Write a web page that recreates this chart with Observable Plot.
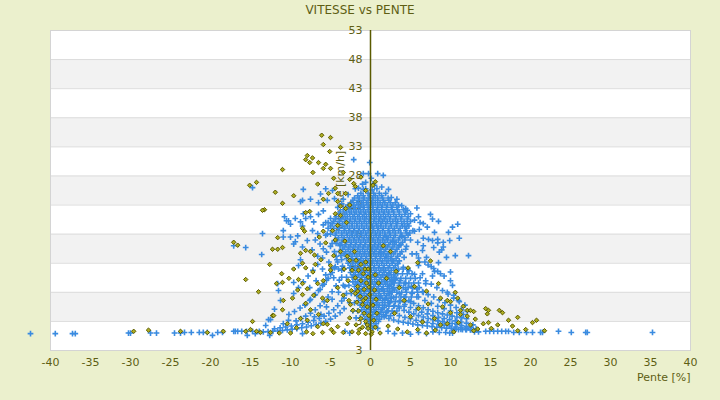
<!DOCTYPE html>
<html><head><meta charset="utf-8">
<script src="https://cdn.jsdelivr.net/npm/d3@7"></script>
<script src="https://cdn.jsdelivr.net/npm/@observablehq/plot@0.6"></script>
<style>
body{margin:0;background:#ebf0cd;font-family:"DejaVu Sans",sans-serif;}
#title{height:20px;line-height:20px;text-align:center;font-size:12px;color:#5e5e14;width:720px;}
</style></head><body>
<div id="title">VITESSE vs PENTE</div>
<div id="chart"></div>
<script>
const xTicks = [-40,-35,-30,-25,-20,-15,-10,-5,0,5,10,15,20,25,30,35,40];
const yTicks = [53,48,43,38,33,28,23,18,13,8,3,-2];
const yTickLabels = ["53","48","43","38","33","28","23","18","13","8","3","3"];

// dense core of the blue series: [speed, [slopes...]]
const blueCore = [
 [25.0,[-1.2,-0.3,0.4,1.1,1.9]],
 [24.2,[-2.0,-1.4,-0.8,-0.2,0.3,0.9,1.5,2.2]],
 [23.4,[-2.4,-1.7,-1.1,-0.5,0.1,0.6,1.2,1.8,2.5,3.1]],
 [22.6,[-3.1,-2.5,-1.9,-1.3,-0.8,-0.2,0.3,0.9,1.4,2.0,2.6,3.3]],
 [21.8,[-3.8,-3.0,-2.4,-1.8,-1.2,-0.6,0,0.5,1.1,1.7,2.3,2.9,3.6,4.4]],
 [21.0,[-4.3,-3.5,-2.9,-2.2,-1.6,-1.0,-0.5,0.1,0.7,1.3,1.9,2.5,3.2,3.9,4.7]],
 [20.2,[-4.6,-3.9,-3.2,-2.6,-2.0,-1.4,-0.8,-0.2,0.4,1.0,1.5,2.1,2.8,3.4,4.2,5.0]],
 [19.4,[-5.0,-4.2,-3.5,-2.9,-2.3,-1.7,-1.1,-0.5,0.2,0.8,1.3,1.9,2.6,3.3,4.0,4.8]],
 [18.6,[-4.8,-4.0,-3.3,-2.7,-2.1,-1.5,-0.9,-0.3,0.3,0.9,1.5,2.2,2.8,3.5,4.4,5.3]],
 [17.8,[-4.4,-3.6,-2.9,-2.3,-1.7,-1.1,-0.5,0.1,0.7,1.2,1.8,2.5,3.1,3.9,4.7]],
 [17.0,[-4.1,-3.4,-2.7,-2.1,-1.5,-0.9,-0.3,0.3,0.9,1.5,2.1,2.8,3.5,4.3]],
 [16.2,[-3.8,-3.1,-2.5,-1.9,-1.3,-0.7,-0.1,0.5,1.0,1.6,2.3,3.0,3.8]],
 [15.4,[-3.5,-2.8,-2.2,-1.6,-1.0,-0.4,0.2,0.7,1.3,1.9,2.6,3.3]],
 [14.6,[-3.3,-2.6,-2.0,-1.4,-0.8,-0.2,0.4,1.0,1.6,2.2,2.9,3.7]],
 [13.8,[-3.0,-2.4,-1.8,-1.2,-0.6,0,0.6,1.2,1.8,2.5,3.2]],
 [13.0,[-2.8,-2.2,-1.6,-1.0,-0.4,0.2,0.8,1.4,2.0,2.7,3.4]],
 [12.2,[-2.6,-2.0,-1.4,-0.8,-0.2,0.4,1.0,1.6,2.2,2.9]],
 [11.4,[-2.5,-1.9,-1.3,-0.7,-0.1,0.5,1.1,1.7,2.4,3.1]],
 [10.6,[-2.3,-1.7,-1.1,-0.5,0.1,0.7,1.3,1.9,2.6]],
 [9.8,[-2.2,-1.6,-1.0,-0.4,0.2,0.8,1.4,2.1,2.8]],
 [9.0,[-2.0,-1.4,-0.8,-0.2,0.4,1.0,1.6,2.3]],
 [8.2,[-1.9,-1.3,-0.7,-0.1,0.5,1.1,1.7,2.4]],
 [7.4,[-1.7,-1.1,-0.5,0.1,0.7,1.3,2.0]],
 [6.6,[-1.5,-0.9,-0.3,0.3,0.9,1.5,2.2]],
 [5.8,[-1.3,-0.7,-0.1,0.5,1.1,1.8]],
 [5.0,[-1.1,-0.5,0.1,0.7,1.4]],
 [4.2,[-0.9,-0.3,0.3,0.9,1.6]],
 [3.4,[-0.7,-0.1,0.5,1.1]],
 [2.6,[-0.5,0.1,0.7]],
 [1.8,[-0.3,0.3,0.9]]
];
const blueCore2 = [
 [26.6,[-1.0,0.3]],
 [25.8,[-1.9,-0.6,0.8]],
 [24.6,[-1.6,-0.9,-0.1,0.6,1.4]],
 [23.8,[-2.2,-1.5,-0.9,-0.3,0.3,0.9,1.6,2.3]],
 [23.0,[-2.8,-2.1,-1.5,-0.9,-0.3,0.3,0.9,1.5,2.1,2.8,3.5]],
 [22.2,[-3.4,-2.7,-2.1,-1.5,-0.9,-0.3,0.3,0.8,1.4,2.0,2.7,3.4,4.1]],
 [21.4,[-3.9,-3.2,-2.6,-2.0,-1.4,-0.8,-0.2,0.4,1.0,1.6,2.2,2.9,3.6,4.3]],
 [20.6,[-4.4,-3.7,-3.1,-2.5,-1.9,-1.3,-0.7,-0.1,0.5,1.1,1.7,2.4,3.1,3.8,4.6]],
 [19.8,[-4.8,-4.1,-3.5,-2.9,-2.3,-1.7,-1.1,-0.5,0.1,0.7,1.3,1.9,2.5,3.2,3.9,4.6]],
 [19.0,[-4.6,-3.9,-3.2,-2.6,-2.0,-1.4,-0.8,-0.2,0.4,1.0,1.6,2.3,3.0,3.7,4.5]],
 [18.2,[-4.3,-3.6,-3.0,-2.4,-1.8,-1.2,-0.6,0,0.6,1.2,1.8,2.4,3.1,3.8,4.5]],
 [17.4,[-4.0,-3.3,-2.6,-2.0,-1.4,-0.8,-0.2,0.4,1.0,1.6,2.2,2.9,3.6,4.3]],
 [16.6,[-3.6,-3.0,-2.4,-1.8,-1.2,-0.6,0,0.6,1.2,1.8,2.5,3.2,4.0]],
 [15.8,[-3.3,-2.7,-2.1,-1.5,-0.9,-0.3,0.3,0.9,1.5,2.1,2.8,3.5]],
 [15.0,[-3.1,-2.5,-1.9,-1.3,-0.7,-0.1,0.5,1.1,1.7,2.4,3.1,3.9]],
 [14.2,[-2.9,-2.3,-1.7,-1.1,-0.5,0.1,0.7,1.3,1.9,2.6,3.4]],
 [13.4,[-2.7,-2.1,-1.5,-0.9,-0.3,0.3,0.9,1.5,2.2,2.9,3.6]],
 [12.6,[-2.5,-1.9,-1.3,-0.7,-0.1,0.5,1.1,1.7,2.4,3.1]],
 [11.8,[-2.3,-1.7,-1.1,-0.5,0.1,0.7,1.3,1.9,2.6,3.3]],
 [11.0,[-2.1,-1.5,-0.9,-0.3,0.3,0.9,1.5,2.2,2.9]],
 [10.2,[-1.9,-1.3,-0.7,-0.1,0.5,1.1,1.7,2.4,3.1]],
 [9.4,[-1.8,-1.2,-0.6,0,0.6,1.2,1.9,2.6]],
 [8.6,[-1.6,-1.0,-0.4,0.2,0.8,1.4,2.1,2.8]],
 [7.8,[-1.4,-0.8,-0.2,0.4,1.0,1.7,2.4]],
 [7.0,[-1.2,-0.6,0,0.6,1.2,1.9,2.6]],
 [6.2,[-1.0,-0.4,0.2,0.8,1.5,2.2]],
 [5.4,[-0.8,-0.2,0.4,1.0,1.7]],
 [4.6,[-0.6,0,0.6,1.3,2.0]],
 [3.8,[-0.4,0.2,0.8,1.4]],
 [3.0,[-0.2,0.4,1.0]],
 [2.2,[0,0.6]]
];
// lower right and left flank of the blue core
const blueFlank = [
 [20.0,[-5.6,-5.3]],[18.0,[-5.4,-5.0]],[16.4,[-4.8,-4.3]],[15.0,[-4.5,-3.9]],[13.6,[-4.2,-3.6]],[12.0,[-4.0,-3.3]],
 [10.6,[-3.6,-3.0]],[9.2,[-3.4,-2.7]],[7.8,[-3.0,-2.4]],[6.2,[-2.6,-2.0]],[4.8,[-2.2,-1.6]],[3.6,[-1.8,-1.3]],
 [12.0,[3.5,4.1,4.7]],[11.2,[3.4,4.0,4.6,5.2]],[10.4,[3.2,3.8,4.4,5.0,5.6]],[9.6,[3.0,3.6,4.2,4.8,5.4,6.0]],
 [8.8,[2.9,3.5,4.1,4.7,5.3,6.1]],[8.0,[2.7,3.3,3.9,4.5,5.2,5.9,6.6]],[7.2,[2.6,3.2,3.8,4.4,5.1,5.8]],
 [6.4,[2.5,3.1,3.7,4.3,5.0]],[5.6,[2.3,2.9,3.5,4.2]],[4.8,[2.1,2.7,3.3]],[4.0,[1.9,2.5]]
];

// blue series outside the core: [slope, speed]
const blueScatter = [
 // bottom line
 [-42.5,0.9],[-39.4,0.9],[-37.25,0.9],[-36.9,0.9],[-30.25,1.0],[-30.0,1.0],[-27.5,1.0],[-26.75,1.0],[-24.5,1.0],[-23.75,1.0],
 [-23.25,1.1],[-22.4,1.1],[-21.4,1.1],[-20.9,1.1],[-20.4,1.1],[-19.75,0.6],[-19.1,1.1],[-18.5,1.1],[-17.1,1.3],[-16.9,1.3],
 [-16.6,1.3],[-16.1,1.3],[-15.5,1.3],[-15.4,0.6],[-14.75,1.3],[-14.4,0.9],[-13.9,1.3],[-13.1,2.3],[-12.75,3.3],[-12.6,0.6],
 [8.6,1.1],[9.4,1.1],[9.9,1.0],[10.25,1.0],[10.5,1.6],[11.0,1.6],[11.5,1.6],[12.0,1.6],[12.5,1.6],[13.0,1.2],[13.5,1.2],
 [14.4,1.3],[14.9,1.3],[15.4,1.3],[15.9,1.3],[16.4,1.3],[16.9,1.3],[17.25,1.3],[17.9,1.1],[18.6,1.1],[19.5,1.1],[20.25,1.1],
 [21.25,1.1],[21.5,1.1],[23.5,1.3],[25.1,1.1],[26.9,1.1],[27.1,1.1],[35.25,1.1],
 [3.0,0.9],[4.0,1.0],[5.0,0.8],[6.0,1.1],[7.0,0.9],[7.8,1.2],[2.2,1.3],[-2.6,1.0],[-3.2,1.3],
 // left rising arcs
 [-13.4,1.2],[-12.8,1.25],[-12.2,1.3],[-11.6,1.35],[-11.0,1.45],[-10.4,1.55],[-9.8,1.65],[-9.2,1.75],[-8.6,1.9],[-8.0,2.05],
 [-7.4,2.25],[-6.8,2.45],[-6.2,2.7],[-5.6,3.0],[-5.0,3.4],[-4.4,3.9],[-3.8,4.5],[-3.3,5.2],
 [-12.0,1.75],[-11.3,1.9],[-10.6,2.05],[-9.9,2.2],[-9.2,2.4],[-8.5,2.6],[-7.8,2.85],[-7.1,3.15],[-6.4,3.5],[-5.8,3.9],
 [-5.2,4.4],[-4.6,5.0],[-4.1,5.7],[-3.6,6.5],
 [-9.3,3.1],[-8.7,3.5],[-8.1,3.9],[-7.5,4.4],[-6.9,5.0],[-6.3,5.7],[-5.8,6.4],[-5.3,7.2],[-4.8,8.1],[-4.3,9.1],[-3.9,10.1],
 [-10.2,4.2],[-9.5,4.7],[-8.8,5.3],[-8.1,6.0],[-7.5,6.8],[-6.9,7.6],[-6.3,8.5],[-5.8,9.4],[-5.3,10.4],[-4.8,11.4],[-4.4,12.4],
 [-8.2,5.8],[-7.6,6.6],[-7.0,7.5],[-6.5,8.3],[-6.0,9.2],[-5.5,10.1],[-5.0,11.1],[-4.5,12.2],[-4.1,13.2],[-3.7,14.3],
 [-9.6,7.8],[-9.0,8.8],[-8.4,9.8],[-7.8,10.8],[-7.2,11.8],[-6.6,12.8],[-6.0,13.9],[-5.5,14.9],[-5.0,15.9],[-4.5,16.9],
 // left scatter
 [-17.1,16.0],[-15.6,15.7],[-13.6,14.5],[-9.6,16.3],[-9.4,16.7],[-8.5,15.8],[-9.0,12.6],[-8.75,13.6],[-9.6,9.7],[-11.5,8.3],
 [-11.6,9.5],[-12.5,3.3],[-10.25,3.2],[-10.9,2.6],[-8.5,0.9],[-11.25,6.6],[-12.0,5.1],
 [-6.0,12.0],[-5.2,13.2],[-4.6,10.5],[-4.0,8.0],[-3.6,11.8],[-3.2,9.0],[-5.6,11.0],[-6.8,10.0],[-7.6,8.8],[-4.3,14.2],
 [-3.8,16.0],[-5.9,15.5],[-4.9,12.0],[-3.5,12.5],[-3.3,7.0],[-4.8,6.8],[-5.5,5.5],[-6.2,4.2],[-7.0,3.8],
 // upper left halo
 [-14.75,26.0],[-8.4,25.7],[-7.5,24.0],[-8.5,23.8],[-8.75,23.6],[-6.25,24.9],[-5.6,25.8],[-6.5,23.4],[-4.75,25.5],[-4.5,24.1],
 [-5.4,23.8],[-10.75,21.0],[-10.5,20.3],[-10.25,20.3],[-10.0,19.7],[-9.4,20.7],[-8.75,20.1],[-10.9,18.6],[-13.5,18.1],[-8.4,21.5],
 [-8.1,20.7],[-7.5,21.0],[-7.1,20.1],[-6.5,21.4],[-5.9,22.0],[-5.9,19.6],[-5.0,20.7],[-7.25,18.6],[-6.6,18.1],[-9.1,17.7],
 [-10.0,17.5],[-10.9,17.5],[-8.5,19.4],[-7.9,16.9],[-6.9,17.0],[-6.3,16.3],[-5.6,17.8],[-5.3,19.0],[-7.3,15.3],[-6.6,14.2],
 [-4.1,22.6],[-3.4,24.0],[-2.8,24.8],[-3.6,23.2],
 // top
 [-2.1,30.8],[-0.9,28.4],[-0.25,28.4],[0.9,28.4],[1.6,28.1],[2.25,25.7],[-0.1,30.3],[0.1,27.6],[-0.6,26.9],[0.5,26.4],
 [-1.5,25.9],[1.4,26.1],[-0.9,25.7],[0.2,25.6],[2.6,24.3],[3.3,24.0],
 // right halo
 [3.9,22.9],[4.4,22.4],[4.6,22.1],[6.0,21.0],[7.5,21.4],[7.75,20.6],[8.5,20.2],[6.6,19.8],[7.1,19.2],[10.9,19.7],
 [10.25,19.2],[9.75,18.3],[8.0,18.3],[11.1,17.3],[9.1,16.6],[9.9,16.9],[8.4,17.1],[7.75,16.9],[7.25,17.1],[6.6,17.3],
 [5.9,16.6],[7.9,15.7],[5.5,18.5],[6.2,20.0],[5.0,21.5],[5.5,20.4],[6.5,15.2],[5.75,14.6],[7.0,14.0],[8.6,14.9],
 [9.5,14.0],[6.1,13.2],[7.2,12.7],[8.0,11.6],[4.5,15.9],[5.0,17.0],[4.3,19.3],[5.8,22.5],[4.9,18.2],[6.1,18.8],
 [6.6,16.0],[8.4,16.5],[9.1,15.8],[8.9,15.3],[10.6,14.3],[12.25,14.3],[6.0,12.6],[8.5,13.1],[7.9,12.1],[6.5,11.2],
 [7.75,10.8],[10.0,11.5],[8.75,11.2],[6.9,9.5],[9.6,8.0],[10.25,9.2],[10.4,7.5],[11.0,6.6],[4.2,14.0],[3.9,17.6],
 // right descending arcs
 [0.5,4.6],[1.1,4.2],[1.7,3.8],[2.3,3.5],[2.9,3.25],[3.5,3.0],[4.1,2.85],[4.7,2.7],[5.3,2.55],[5.9,2.4],[6.5,2.3],
 [7.1,2.2],[7.7,2.1],[8.3,2.0],[8.9,1.9],[9.5,1.85],[10.1,1.8],[10.7,1.7],[11.3,1.65],[11.9,1.6],[12.5,1.55],
 [0.8,5.9],[1.5,5.3],[2.2,4.8],[2.9,4.4],[3.6,4.0],[4.3,3.7],[5.0,3.45],[5.7,3.2],[6.4,3.0],[7.1,2.8],[7.8,2.65],
 [8.5,2.5],[9.2,2.35],[9.9,2.2],[10.6,2.05],[11.3,1.95],[12.0,1.85],
 [1.2,7.2],[1.8,6.7],[2.4,6.2],[3.0,5.7],[3.6,5.3],[4.2,4.9],[4.8,4.6],[5.4,4.3],[6.0,4.0],[6.6,3.75],[7.2,3.5],
 [7.8,3.3],[8.4,3.1],[9.0,2.95],[9.6,2.8],[10.2,2.65],[10.8,2.5],[11.4,2.3],[12.0,2.1],[12.6,1.9],[13.2,1.75],
 [1.5,8.5],[2.2,7.8],[2.9,7.1],[3.6,6.5],[4.3,5.9],[5.0,5.4],[5.7,5.0],[6.4,4.6],[7.1,4.3],[7.8,4.0],[8.5,3.7],
 [9.2,3.5],[9.9,3.3],[10.6,3.1],[11.3,2.9],[12.0,2.7],[12.8,2.4],
 [1.8,9.9],[2.4,9.1],[3.0,8.4],[3.6,7.8],[4.2,7.2],[4.8,6.6],[5.4,6.1],[6.0,5.7],[6.6,5.35],[7.2,5.0],[7.8,4.75],
 [8.4,4.5],[9.0,4.3],[9.6,4.1],[10.2,3.9],[10.8,3.75],[11.4,3.6],[12.0,3.45],
 [2.0,10.9],[2.8,10.0],[3.6,9.2],[4.4,8.5],[5.2,7.8],[6.0,7.2],[6.8,6.6],[7.6,6.1],[8.4,5.6],[9.2,5.2],[10.0,4.8],
 [10.8,4.5],[11.6,4.2],
 [1.6,11.8],[2.3,11.2],[3.0,10.6],[3.7,10.0],[4.4,9.5],[5.1,9.0],[5.8,8.6],[6.5,8.1],[7.2,7.6],[7.9,7.2],[8.6,6.7],
 [9.3,6.2],[10.0,5.8],[10.7,5.4],[11.4,5.0],[12.1,4.7],
 [1.3,14.7],[2.0,14.1],[2.7,13.5],[3.4,12.9],[4.1,12.3],[4.8,11.7],[5.5,11.1],[6.2,10.5],[6.9,10.0],[7.6,9.4],[8.3,8.8],
 [9.0,8.3],[9.7,7.7],[10.4,7.0],[11.1,6.4],[11.8,5.8],
 [2.0,17.5],[2.8,16.8],[3.6,16.1],[4.4,15.4],[5.2,14.6],[6.0,13.9],[6.8,13.2],[7.6,12.4],[8.4,11.6],[9.2,10.8],[10.0,10.0]
];

// olive series: [slope, speed]
const olivePts = [
 // upper left
 [-6.1,35.0],[-5.0,34.6],[-5.9,33.4],[-5.1,32.2],[-3.75,32.9],[-7.9,31.5],[-7.25,31.1],[-8.1,30.8],[-7.6,30.3],[-6.5,30.3],
 [-5.6,30.0],[-5.9,29.3],[-5.0,29.3],[-11.0,29.1],[-14.25,26.9],[-11.9,25.2],[-9.6,24.6],[-11.0,23.3],[-13.25,22.2],[-8.1,21.7],
 [-7.6,21.9],[-8.5,19.0],[-8.25,18.5],[-11.6,17.4],[-3.4,28.6],[-3.1,25.0],[-1.9,26.2],[-4.4,25.9],[-4.1,25.0],[-5.9,24.0],
 [-5.25,25.0],[-4.1,23.6],[-3.75,22.8],[-3.1,22.4],[-2.1,26.7],[-0.6,25.5],[-3.75,21.2],[-4.1,19.5],[-4.75,18.6],[-5.9,18.5],
 [-15.1,26.4],[-17.1,16.6],[-16.6,16.1],[-13.5,22.1],[-4.6,27.6],[-2.6,27.4],[-6.6,26.6],[-7.2,28.6],
 // left middle
 [-12.25,15.4],[-11.6,15.4],[-11.0,15.7],[-12.6,12.8],[-11.1,11.2],[-15.6,10.2],[-11.75,9.5],[-11.0,9.7],[-14.0,8.1],[-10.9,6.6],
 [-11.0,5.0],[-12.25,4.0],[-14.75,3.0],[-15.6,1.3],[-15.0,1.6],[-13.75,1.1],
 [-8.75,14.7],[-8.1,15.2],[-7.5,15.0],[-8.5,13.0],[-8.1,12.2],[-9.0,10.2],[-8.5,9.5],[-7.9,8.6],[-9.1,8.4],[-8.5,7.6],
 [-9.75,7.0],[-8.1,6.1],[-7.5,5.0],[-6.5,4.2],[-7.9,3.2],[-6.6,2.1],[-5.4,2.5],[-4.1,2.1],[-2.9,2.6],[-6.6,9.5],
 [-5.9,10.0],[-5.0,12.6],[-4.6,14.3],[-3.75,15.0],[-5.0,11.8],[-4.1,8.8],[-3.4,7.5],[-2.5,5.9],[-5.4,6.6],[-7.1,7.5],
 [-6.9,12.8],[-7.2,11.5],[-6.2,13.6],[-5.6,16.5],[-6.4,17.5],[-4.4,17.0],[-7.0,14.4],[-9.6,12.0],[-10.2,10.4],[-6.0,7.0],
 // column around zero
 [-1.8,13.5],[-1.2,12.8],[-0.6,13.2],[-1.5,11.8],[-0.9,11.2],[-0.3,12.0],[-1.9,10.5],[-1.2,10.0],[-0.5,9.6],[-1.6,9.0],
 [-0.8,8.5],[-0.2,8.9],[-1.9,7.8],[-1.3,7.3],[-0.6,7.0],[-0.1,7.6],[-1.7,6.3],[-1.0,5.9],[-0.4,5.5],[-1.5,4.8],
 [-0.8,4.4],[-0.2,4.0],[-1.2,3.5],[-0.6,3.0],[-1.8,2.4],[-1.0,2.0],[-0.3,1.8],[-2.3,1.2],[-1.5,1.0],[-0.6,0.9],
 [0.2,1.2],[0.6,2.0],[0.4,3.2],[0.8,4.4],[0.3,5.8],[0.7,6.8],[0.5,8.4],[1.0,9.6],[0.6,11.0],
 [1.2,1.0],[-2.6,3.6],[-2.2,4.9],[-2.7,6.6],[-2.4,8.3],[-2.8,10.0],[-2.3,11.8],[-2.6,13.5],[-2.0,15.0],
 [-2.6,23.0],[-3.0,20.0],[-4.4,21.5],[-3.2,16.8],[-2.9,14.2],[-3.3,12.0],[-0.3,10.6],[0.6,27.0],[0.3,26.4],
 [-1.2,27.8],[-0.4,2.4],[-1.4,1.6],[0.1,0.8],[-0.9,6.6],[-1.6,8.2],[-0.7,12.0],
 // right
 [1.6,16.0],[2.5,15.0],[10.6,8.0],[10.9,7.0],[10.0,6.4],[8.75,7.0],[8.5,9.5],[7.5,13.4],[5.9,13.1],[12.1,4.9],
 [12.5,4.9],[12.9,4.7],[11.25,4.9],[14.4,5.2],[14.75,4.9],[14.6,4.3],[16.5,4.5],[18.4,3.7],[17.25,3.2],[20.25,2.8],
 [20.75,3.2],[21.75,1.4],[13.1,3.4],[14.75,2.8],[14.1,2.6],[15.9,2.4],[17.75,2.2],[11.0,2.8],[12.5,2.4],[12.9,1.4],
 [18.4,1.4],[12.1,3.9],[11.25,4.2],[9.6,2.6],[8.75,2.4],[13.4,1.7],[9.0,5.5],[10.0,4.5],[7.2,6.0],[6.0,5.2],
 [5.0,3.8],[4.2,6.6],[3.6,8.8],[2.2,2.2],[3.4,1.7],[4.6,1.2],[5.9,1.6],[7.0,1.0],[3.0,4.4],[2.0,10.4],
 [3.2,11.6],[5.5,9.0],[7.0,8.2],[4.7,12.2],[6.5,2.9],[8.0,3.5],[16.1,4.9],
 [9.6,6.6],[11.6,5.6],[8.1,1.5],[10.4,1.2],[15.1,1.8],[19.4,1.6],
 // bottom left
 [-29.6,1.3],[-27.75,1.5],[-23.75,1.3],[-20.4,1.1],[-18.4,1.3],[-14.25,1.3],[-12.1,4.0],[-11.4,1.0],[-10.4,2.6],[-8.75,3.5],
 [-6.0,1.1],[-5.9,2.6],[-4.6,1.1],[-3.4,1.1],[-12.5,1.1],[-10.0,1.0],[-8.0,1.2],[-7.2,0.9],[-9.25,1.9],[-4.9,1.6]
];

const rowsToPoints = rows => rows.flatMap(([y, xs]) => xs.map(x => [x, y]));
const blue = [...blueScatter, ...rowsToPoints(blueCore), ...rowsToPoints(blueCore2), ...rowsToPoints(blueFlank)];
const bands = yTicks.slice(0, -1).map((t, i) => ({y1: t, y2: yTicks[i + 1], odd: i % 2 === 1})).filter(d => d.odd);
const ink = "#5e5e14";

const chart = Plot.plot({
  width: 720, height: 380,
  marginTop: 10, marginBottom: 50, marginLeft: 50, marginRight: 30,
  style: {background: "transparent", fontFamily: "DejaVu Sans", fontSize: "11px", color: ink},
  x: {domain: [-40, 40], ticks: xTicks, tickSize: 0, tickPadding: 8, tickFormat: d => String(d), label: null},
  y: {domain: [-2, 53], axis: null},
  marks: [
    Plot.frame({fill: "white"}),
    Plot.rect(bands, {y1: "y1", y2: "y2", fill: "#f2f2f2"}),
    Plot.ruleY(yTicks, {stroke: "#dcdcdc"}),
    Plot.frame({stroke: "#d4d4d4"}),
    Plot.text(yTicks, {x: () => 0, y: d => d, text: (d, i) => yTickLabels[i], dx: -8, textAnchor: "end", fill: ink, fontSize: 11}),
    Plot.text(["Vitesse [km/h]"], {x: () => 0, frameAnchor: "middle", rotate: -90, dx: -30, fill: ink, fontSize: 11}),
    Plot.text(["Pente [%]"], {frameAnchor: "bottom-right", dy: 30, textAnchor: "end", fill: ink, fontSize: 11}),
    Plot.dot(blue, {x: d => d[0], y: d => d[1], symbol: "plus", r: 2.0, stroke: "#3a8be0", strokeWidth: 1.6}),
    Plot.dot(olivePts, {x: d => d[0], y: d => d[1], symbol: "diamond2", r: 2.0, stroke: "#5a5a00", fill: "#aeae22", strokeWidth: 1}),
    Plot.ruleX([0], {stroke: "#5a5a00", strokeWidth: 1.5})
  ]
});
document.getElementById("chart").appendChild(chart);
</script>
</body></html>
